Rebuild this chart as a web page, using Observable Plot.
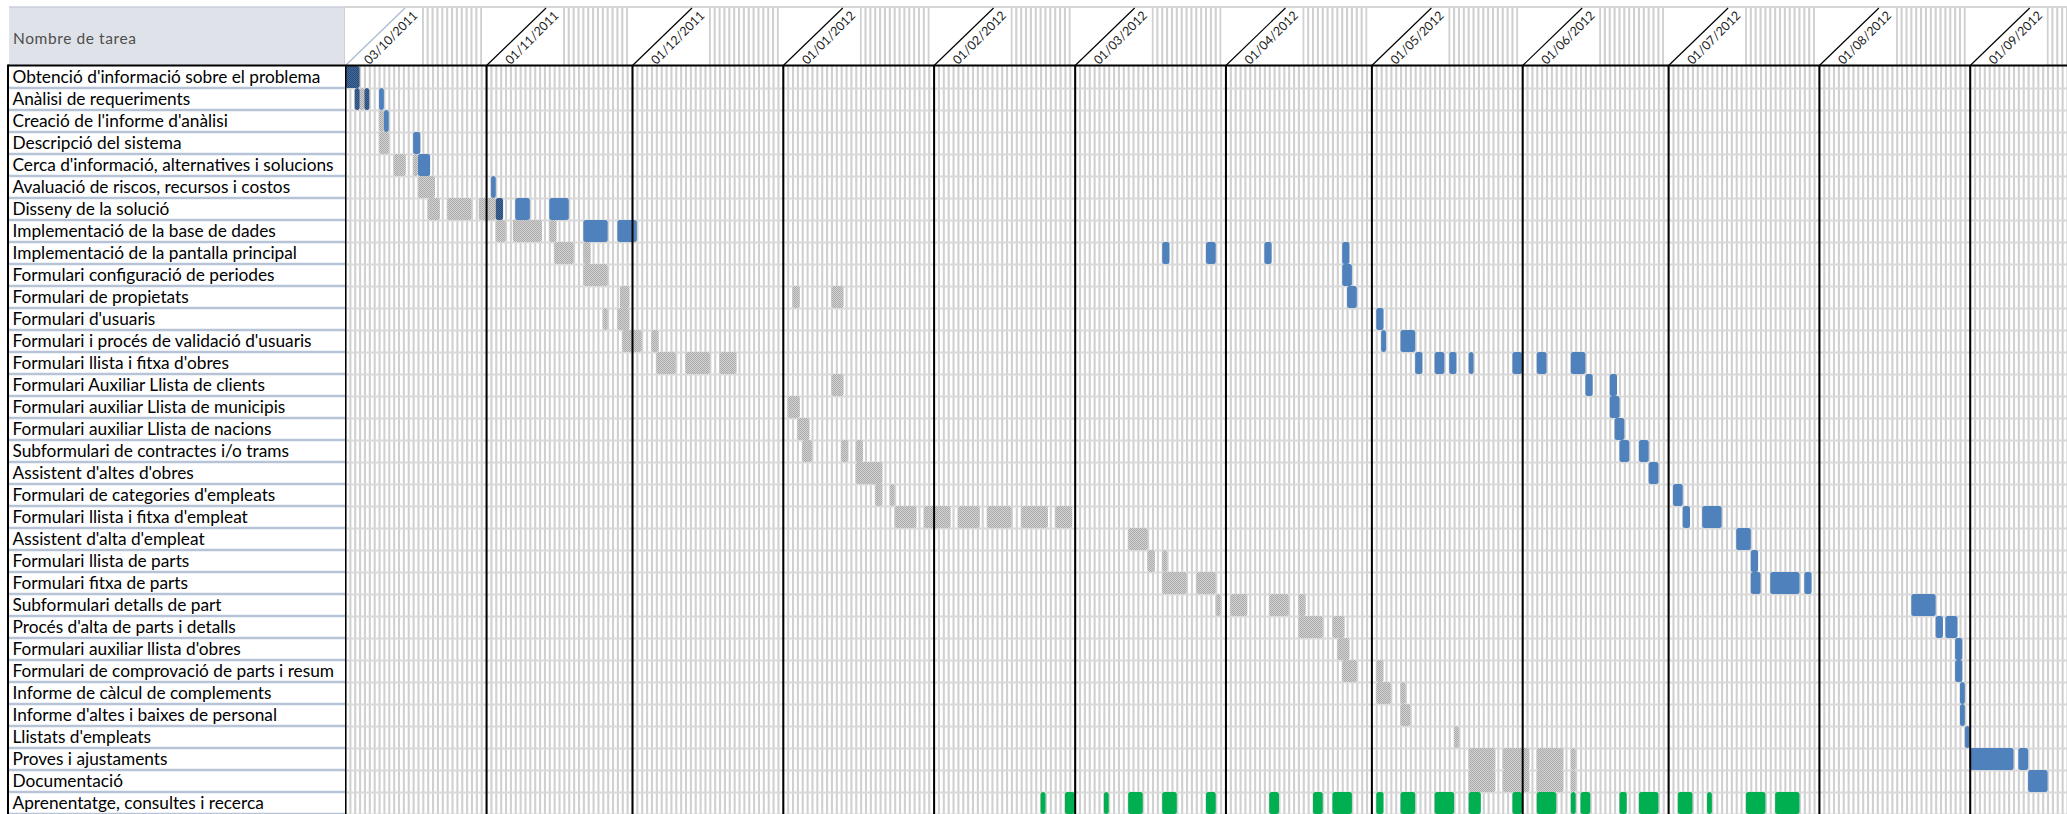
<!DOCTYPE html>
<html>
<head>
<meta charset="utf-8">
<script src="https://cdn.jsdelivr.net/npm/d3@7"></script>
<script src="https://cdn.jsdelivr.net/npm/@observablehq/plot@0.6"></script>
<style>
html, body { margin: 0; padding: 0; background: #fff; overflow: hidden; }
</style>
</head>
<body>
<div id="chart"></div>
<script>
// ---------------- data ----------------
const columnTitle = "Nombre de tarea";
const projectStart = "2011-10-03";
const visibleDays = 354; // days shown from projectStart

const tasks = [
  "Obtenció d'informació sobre el problema",
  "Anàlisi de requeriments",
  "Creació de l'informe d'anàlisi",
  "Descripció del sistema",
  "Cerca d'informació, alternatives i solucions",
  "Avaluació de riscos, recursos i costos",
  "Disseny de la solució",
  "Implementació de la base de dades",
  "Implementació de la pantalla principal",
  "Formulari configuració de periodes",
  "Formulari de propietats",
  "Formulari d'usuaris",
  "Formulari i procés de validació d'usuaris",
  "Formulari llista i fitxa d'obres",
  "Formulari Auxiliar Llista de clients",
  "Formulari auxiliar Llista de municipis",
  "Formulari auxiliar Llista de nacions",
  "Subformulari de contractes i/o trams",
  "Assistent d'altes d'obres",
  "Formulari de categories d'empleats",
  "Formulari llista i fitxa d'empleat",
  "Assistent d'alta d'empleat",
  "Formulari llista de parts",
  "Formulari fitxa de parts",
  "Subformulari detalls de part",
  "Procés d'alta de parts i detalls",
  "Formulari auxiliar llista d'obres",
  "Formulari de comprovació de parts i resum",
  "Informe de càlcul de complements",
  "Informe d'altes i baixes de personal",
  "Llistats d'empleats",
  "Proves i ajustaments",
  "Documentació",
  "Aprenentatge, consultes i recerca"
];

const tickDates = ["2011-10-03","2011-11-01","2011-12-01","2012-01-01","2012-02-01","2012-03-01",
                   "2012-04-01","2012-05-01","2012-06-01","2012-07-01","2012-08-01","2012-09-01"];
const tickLabels = ["03/10/2011","01/11/2011","01/12/2011","01/01/2012","01/02/2012","01/03/2012",
                    "01/04/2012","01/05/2012","01/06/2012","01/07/2012","01/08/2012","01/09/2012"];

// [task index, start day, end day] — days counted from projectStart
const planned = [
  [1,3,4],
  [2,7,8],
  [3,7,9],
  [4,10,12.5],[4,14,15],
  [5,15,18.5],
  [6,17,19.5],[6,21,26],[6,27.5,31],
  [7,31,33],[7,34.5,40.5],[7,42,43.5],
  [8,43,47],[8,49,50.5],
  [9,49,54],
  [10,56.5,58.5],[10,92,93.5],[10,100,102.5],
  [11,53,54],[11,56,58.5],
  [12,57,61],[12,63,64.5],
  [13,64,68],[13,70,75],[13,77,80.5],
  [14,100,102.5],
  [15,91,93.5],
  [16,93,95.5],
  [17,94,96],[17,102,103.5],[17,105,106.5],
  [18,105,110.5],
  [19,109,110.5],[19,112,113],
  [20,113,117.5],[20,119,124.5],[20,126,130.5],[20,132,137],[20,139,144.5],[20,146,149.5],
  [21,161,165],
  [22,165,166.5],[22,168,169],
  [23,168,173],[23,175,179],
  [24,179,180],[24,182,185.5],[24,190,194],[24,196,197.5],
  [25,196,201],[25,203,205.5],
  [26,204,206.5],
  [27,205,208],[27,212,213.5],
  [28,212,215],[28,217,218],
  [29,217,219],
  [30,228,229],
  [31,231,236.5],[31,238,243.5],[31,245,250.5],[31,252,253],
  [32,231,236.5],[32,238,243.5],[32,245,250.5],[32,252,253]
];

const actual = [
  [1,7,8],
  [2,8,9],
  [3,14,15.5],
  [4,15,17.5],
  [5,30,31],
  [6,35,38],[6,42,46],
  [7,49,54],[7,56,60],
  [8,168,169.5],[8,177,179],[8,189,190.5],[8,205,206.5],
  [9,205,207],
  [10,206,208],
  [11,212,213.5],
  [12,213,214],[12,217,220],
  [13,220,221.5],[13,224,226],[13,227,228.5],[13,231,232],[13,240,242],[13,245,247],[13,252,255],
  [14,255,256.5],[14,260,261.5],
  [15,260,262],
  [16,261,263],
  [17,262,264],[17,266,268],
  [18,268,270],
  [19,273,275],
  [20,275,276.5],[20,279,283],
  [21,286,289],
  [22,289,290.5],
  [23,289,291],[23,293,299],[23,300,301.5],
  [24,322,327],
  [25,327,328.5],[25,329,331.5],
  [26,331,332.5],
  [27,331,332.5],
  [28,332,333],
  [29,332,333],
  [30,333,334],
  [31,334,343],[31,344,346],
  [32,346,350]
];

// planned and actual at the same time
const overlap = [
  [0,0,3],
  [1,2,3],[1,4,5],
  [6,31,32.5]
];

const learning = [
  [33,143,144],[33,148,150],[33,156,157],[33,161,164],[33,168,171],[33,177,179],
  [33,190,192],[33,199,201],[33,203,207],[33,212,213.5],[33,217,220],[33,224,228],
  [33,231,233.5],[33,240,242],[33,245,249],[33,252,253],[33,254,256],[33,262,263.5],
  [33,266,270],[33,274,277],[33,280,281],[33,288,292],[33,294,299]
];

// ---------------- chart ----------------
const W = 2067, H = 814, M_TOP = 66, M_LEFT = 345;
const FONT = "Lato, 'Open Sans', sans-serif";
const DAY = 864e5;
const t0 = new Date(projectStart + "T00:00:00Z");
const at = d => new Date(t0.getTime() + d * DAY);
const rowH = (H - M_TOP) / tasks.length;
const days = d3.range(0, visibleDays + 1).map(at);
const ticks = tickDates.map(s => new Date(s + "T00:00:00Z"));
const tickData = ticks.map((d, i) => ({date: d, label: tickLabels[i], first: i === 0}));

const ctx = document.createElement("canvas").getContext("2d");
ctx.font = `100px ${FONT}`;
const labelSize = Math.max(13, Math.min(19, 308 * 100 / ctx.measureText(tasks[0]).width));

const bars = (rows, fill) => Plot.barX(rows, {
  x1: d => at(d[1]), x2: d => at(d[2]), y: d => tasks[d[0]], fill, rx: 2.5
});

function patterns() {
  const defs = d3.create("svg:defs");
  const mk = (id, base, dot) => {
    const p = defs.append("pattern").attr("id", id).attr("width", 2).attr("height", 2)
      .attr("patternUnits", "userSpaceOnUse");
    p.append("rect").attr("width", 2).attr("height", 2).attr("fill", base);
    p.append("rect").attr("width", 1).attr("height", 1).attr("fill", dot);
    p.append("rect").attr("x", 1).attr("y", 1).attr("width", 1).attr("height", 1).attr("fill", dot);
  };
  mk("ganttPlanned", "#d2d2d2", "#ababab");
  mk("ganttOverlap", "#44699b", "#2a4b78");
  return defs.node();
}

function header(index, scales, values, dims) {
  const x = scales.x;
  const top = 7, bottom = dims.marginTop;
  const g = d3.create("svg:g");
  g.append("rect").attr("x", 9).attr("y", top).attr("width", dims.marginLeft - 9)
    .attr("height", bottom - top).attr("fill", "#dfe3e9");
  g.append("line").attr("x1", 9).attr("x2", dims.marginLeft).attr("y1", top).attr("y2", top)
    .attr("stroke", "#c9ced8").attr("stroke-width", 1.5);
  g.append("text").attr("x", 13).attr("y", (top + bottom) / 2 + 2).attr("dy", "0.35em")
    .attr("text-anchor", "start").attr("font-size", 15.5).attr("letter-spacing", 0.6)
    .attr("fill", "#4d4d4d").text(columnTitle);
  g.append("g").selectAll("line").data(days).join("line")
    .attr("x1", d => x(d)).attr("x2", d => x(d)).attr("y1", top).attr("y2", bottom)
    .attr("stroke", "#d0d0d0").attr("stroke-width", 2.1);
  g.append("g").selectAll("rect").data(ticks).join("rect")
    .attr("x", d => Math.max(x(d) - 4, dims.marginLeft)).attr("y", top)
    .attr("width", d => x(d) + 77 - Math.max(x(d) - 4, dims.marginLeft))
    .attr("height", bottom - top).attr("fill", "#fff");
  g.append("line").attr("x1", dims.marginLeft).attr("x2", dims.width).attr("y1", top).attr("y2", top)
    .attr("stroke", "#d6d6d6").attr("stroke-width", 2);
  g.append("g").selectAll("line").data(tickData).join("line")
    .attr("x1", d => x(d.date)).attr("y1", bottom).attr("x2", d => x(d.date) + 60).attr("y2", top + 1)
    .attr("stroke", d => d.first ? "#a9b8d0" : "#000").attr("stroke-width", 1.2);
  return g.node();
}

function labelColumn(index, scales, values, dims) {
  const g = d3.create("svg:g");
  g.append("rect").attr("x", 9).attr("y", dims.marginTop).attr("width", dims.marginLeft - 9)
    .attr("height", dims.height - dims.marginTop).attr("fill", "#fff");
  g.append("g").selectAll("line").data(tasks).join("line")
    .attr("x1", 9).attr("x2", dims.marginLeft)
    .attr("y1", d => scales.y(d) + rowH).attr("y2", d => scales.y(d) + rowH)
    .attr("stroke", "#b7c3d7").attr("stroke-width", 2.5);
  return g.node();
}

function borders(index, scales, values, dims) {
  const g = d3.create("svg:g").attr("stroke", "#000").attr("stroke-width", 2);
  g.append("line").attr("x1", 8).attr("x2", dims.width).attr("y1", dims.marginTop - 0.5).attr("y2", dims.marginTop - 0.5);
  g.append("line").attr("x1", 8).attr("x2", 8).attr("y1", dims.marginTop - 1.5).attr("y2", dims.height);
  return g.node();
}

const chart = Plot.plot({
  width: W, height: H,
  marginTop: M_TOP, marginLeft: M_LEFT, marginRight: 0, marginBottom: 0,
  style: {background: "#fff", fontFamily: FONT},
  x: {type: "utc", domain: [t0, at(visibleDays)], axis: null},
  y: {type: "band", domain: tasks, padding: 0, axis: null},
  marks: [
    patterns,
    Plot.ruleX(days, {stroke: "#d0d0d0", strokeWidth: 2.1}),
    Plot.ruleY(tasks, {dy: rowH / 2, stroke: "#d9d9d9", strokeWidth: 2.2}),
    bars(planned, "url(#ganttPlanned)"),
    bars(actual, "#4f81bd"),
    bars(overlap, "url(#ganttOverlap)"),
    bars(learning, "#00b050"),
    Plot.ruleX(ticks, {stroke: "#000", strokeWidth: 2}),
    labelColumn,
    Plot.text(tasks, {y: d => d, text: d => d, frameAnchor: "left", dx: -333, textAnchor: "start",
      fontSize: labelSize, fill: "#000"}),
    header,
    Plot.text(tickData, {x: "date", text: "label", frameAnchor: "top", rotate: -45, textAnchor: "start",
      lineAnchor: "middle", dx: 21, dy: -4, fontSize: 12.5, fill: "#1a1a1a"}),
    borders
  ]
});
document.getElementById("chart").append(chart);
</script>
</body>
</html>
